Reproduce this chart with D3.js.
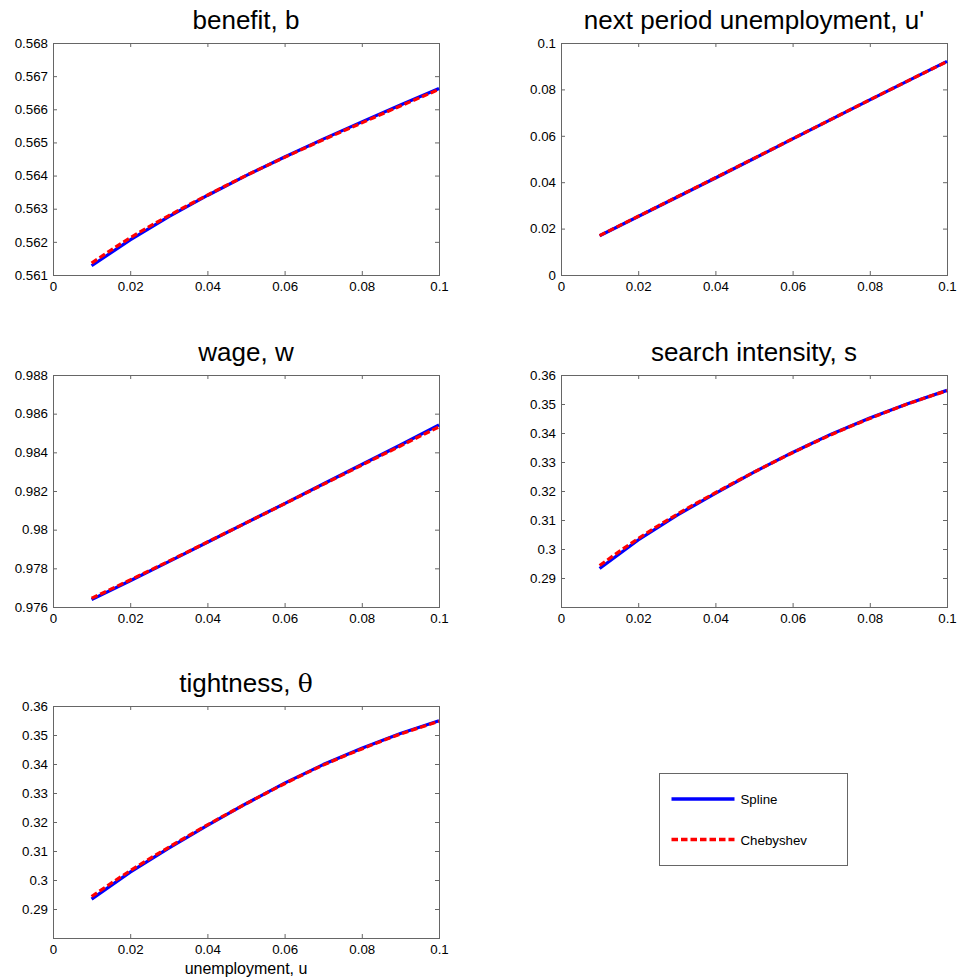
<!DOCTYPE html>
<html>
<head>
<meta charset="utf-8">
<script src="https://cdn.jsdelivr.net/npm/d3@7"></script>
<style>
  html, body { margin: 0; padding: 0; background: #fff; }
  svg { display: block; }
  text { font-family: "Liberation Sans", Arial, sans-serif; fill: #000; }
</style>
</head>
<body>
<svg id="chart" width="960" height="980"></svg>
<script>
// Grid of unemployment levels
const uGrid = [0.01, 0.02, 0.03, 0.04, 0.05, 0.06, 0.07, 0.08, 0.09, 0.10];
const xTicks = [0, 0.02, 0.04, 0.06, 0.08, 0.1];

// Policy functions: spline vs Chebyshev approximation
const benefitSpline = [0.56128, 0.56206, 0.56276, 0.56340, 0.56400, 0.56456, 0.56510, 0.56562, 0.56613, 0.56663];
const benefitCheb   = [0.56136, 0.56212, 0.56279, 0.56341, 0.56400, 0.56455, 0.56508, 0.56559, 0.56610, 0.56660];
const benefitTicks  = [0.561, 0.562, 0.563, 0.564, 0.565, 0.566, 0.567, 0.568];

const uNextSpline = [0.0169, 0.0252, 0.0335, 0.0418, 0.0502, 0.0587, 0.0671, 0.0755, 0.0838, 0.0921];
const uNextCheb   = [0.0170, 0.0253, 0.0336, 0.0419, 0.0503, 0.0587, 0.0671, 0.0755, 0.0838, 0.0920];
const uNextTicks  = [0, 0.02, 0.04, 0.06, 0.08, 0.1];

const wageSpline = [0.97638, 0.97736, 0.97835, 0.97935, 0.98035, 0.98135, 0.98236, 0.98337, 0.98438, 0.98542];
const wageCheb   = [0.97645, 0.97740, 0.97837, 0.97936, 0.98035, 0.98134, 0.98234, 0.98334, 0.98433, 0.98532];
const wageTicks  = [0.976, 0.978, 0.98, 0.982, 0.984, 0.986, 0.988];

const searchSpline = [0.2933, 0.3031, 0.3116, 0.3192, 0.3265, 0.3333, 0.3396, 0.3452, 0.3502, 0.3547];
const searchCheb   = [0.2943, 0.3036, 0.3119, 0.3194, 0.3265, 0.3332, 0.3394, 0.3450, 0.3501, 0.3546];
const searchTicks  = [0.29, 0.30, 0.31, 0.32, 0.33, 0.34, 0.35, 0.36];

const thetaSpline = [0.2934, 0.3027, 0.3110, 0.3188, 0.3263, 0.3334, 0.3398, 0.3454, 0.3505, 0.3549];
const thetaCheb   = [0.2943, 0.3032, 0.3113, 0.3190, 0.3263, 0.3332, 0.3396, 0.3452, 0.3503, 0.3547];
const thetaTicks  = [0.29, 0.30, 0.31, 0.32, 0.33, 0.34, 0.35, 0.36];

const seriesNames = ["Spline", "Chebyshev"];

const panels = [
  { title: ["benefit, b"], left: 53, top: 43, yDomain: [0.561, 0.568], yTicks: benefitTicks, spline: benefitSpline, cheb: benefitCheb },
  { title: ["next period unemployment, u'"], left: 561, top: 43, yDomain: [0, 0.1], yTicks: uNextTicks, spline: uNextSpline, cheb: uNextCheb },
  { title: ["wage, w"], left: 53, top: 375, yDomain: [0.976, 0.988], yTicks: wageTicks, spline: wageSpline, cheb: wageCheb },
  { title: ["search intensity, s"], left: 561, top: 375, yDomain: [0.28, 0.36], yTicks: searchTicks, spline: searchSpline, cheb: searchCheb },
  { title: ["tightness, ", "θ"], left: 53, top: 706, yDomain: [0.28, 0.36], yTicks: thetaTicks, spline: thetaSpline, cheb: thetaCheb, xLabel: "unemployment, u" }
];

const W = 386, H = 232;
const boxColor = "#666666";
const fmt = v => String(+v.toFixed(6));

const svg = d3.select("#chart");

panels.forEach(p => {
  const g = svg.append("g").attr("transform", `translate(${p.left},${p.top})`);
  const x = d3.scaleLinear().domain([0, 0.1]).range([0, W]);
  const y = d3.scaleLinear().domain(p.yDomain).range([H, 0]);

  // axes with inward ticks on all four sides
  const styleAxis = sel => {
    sel.select(".domain").remove();
    sel.selectAll(".tick line").attr("stroke", boxColor);
    sel.selectAll(".tick text").attr("font-size", "13.3px").attr("fill", "#000")
      .style("font-family", '"Liberation Sans", Arial, sans-serif');
  };
  g.append("g").attr("transform", `translate(0,${H})`)
    .call(d3.axisBottom(x).tickValues(xTicks).tickFormat(fmt).tickSizeInner(-4).tickSizeOuter(0).tickPadding(7))
    .call(styleAxis);
  g.append("g")
    .call(d3.axisTop(x).tickValues(xTicks).tickFormat("").tickSizeInner(-4).tickSizeOuter(0))
    .call(styleAxis);
  g.append("g")
    .call(d3.axisLeft(y).tickValues(p.yTicks).tickFormat(fmt).tickSizeInner(-4).tickSizeOuter(0).tickPadding(5))
    .call(styleAxis);
  g.append("g").attr("transform", `translate(${W},0)`)
    .call(d3.axisRight(y).tickValues(p.yTicks).tickFormat("").tickSizeInner(-4).tickSizeOuter(0))
    .call(styleAxis);

  g.append("rect").attr("x", 0.5).attr("y", 0.5).attr("width", W).attr("height", H)
    .attr("fill", "none").attr("stroke", boxColor).attr("stroke-width", 1);

  const splineLine = d3.line().x((d, i) => x(uGrid[i])).y(d => y(d));
  const chebLine = d3.line().x((d, i) => x(uGrid[i])).y(d => y(d)).curve(d3.curveMonotoneX);

  g.append("path").datum(p.spline).attr("d", splineLine)
    .attr("fill", "none").attr("stroke", "#0000ff").attr("stroke-width", 3.2)
    .attr("stroke-linejoin", "round");
  g.append("path").datum(p.cheb).attr("d", chebLine)
    .attr("fill", "none").attr("stroke", "#ff0000").attr("stroke-width", 3.2)
    .attr("stroke-dasharray", "6.5,3");

  const t = g.append("text").attr("x", W / 2).attr("y", -14)
    .attr("text-anchor", "middle").attr("font-size", "26px");
  t.append("tspan").text(p.title[0]);
  if (p.title[1]) {
    t.append("tspan").text(p.title[1]).style("font-family", '"DejaVu Serif", "Liberation Serif", serif')
      .attr("font-size", "25px");
  }

  if (p.xLabel) {
    g.append("text").attr("x", W / 2).attr("y", H + 36)
      .attr("text-anchor", "middle").attr("font-size", "16px").text(p.xLabel);
  }
});

// Legend
const lg = svg.append("g").attr("transform", "translate(659.5,773.5)");
lg.append("rect").attr("width", 188).attr("height", 92)
  .attr("fill", "#fff").attr("stroke", boxColor).attr("stroke-width", 1);
const legendItems = [
  { name: seriesNames[0], color: "#0000ff", dash: null, y: 25.5 },
  { name: seriesNames[1], color: "#ff0000", dash: "6.5,3", y: 66 }
];
legendItems.forEach(it => {
  lg.append("line").attr("x1", 12).attr("x2", 75).attr("y1", it.y).attr("y2", it.y)
    .attr("stroke", it.color).attr("stroke-width", 3.5)
    .attr("stroke-dasharray", it.dash);
  lg.append("text").attr("x", 81).attr("y", it.y + 5).attr("font-size", "13.3px").text(it.name);
});
</script>
</body>
</html>
